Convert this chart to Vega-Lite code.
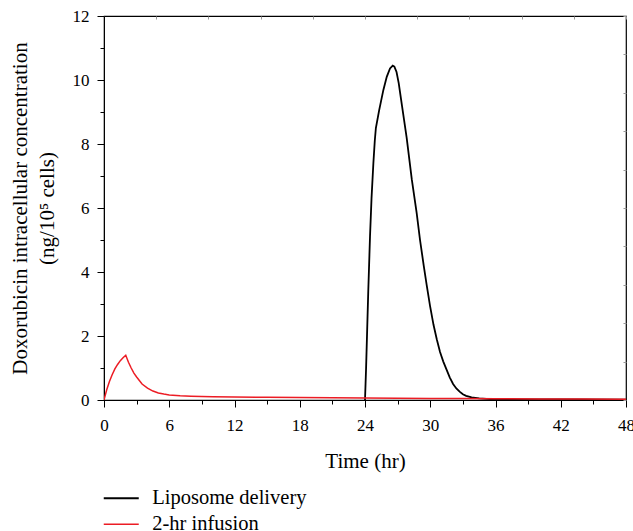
{
  "$schema": "https://vega.github.io/schema/vega-lite/v6.json",
  "width": 522,
  "height": 384,
  "autosize": {"type": "none"},
  "padding": {"left": 104, "top": 16, "right": 7, "bottom": 131},
  "background": "white",
  "config": {
    "font": "Liberation Serif",
    "view": {"stroke": "black", "strokeWidth": 1.2},
    "axis": {
      "grid": false,
      "domainColor": "black",
      "tickColor": "black",
      "labelColor": "black",
      "titleColor": "black",
      "labelFont": "Liberation Serif",
      "titleFont": "Liberation Serif",
      "labelFontSize": 17,
      "titleFontSize": 21,
      "titleFontWeight": "normal"
    },
    "legend": {"labelFont": "Liberation Serif"}
  },
  "data": {
    "values": [
      {"series": "Liposome delivery", "t": 24.0, "c": 0},
      {"series": "Liposome delivery", "t": 24.05, "c": 0.5},
      {"series": "Liposome delivery", "t": 24.1, "c": 1.0},
      {"series": "Liposome delivery", "t": 24.2, "c": 2.2},
      {"series": "Liposome delivery", "t": 24.3, "c": 3.4},
      {"series": "Liposome delivery", "t": 24.46, "c": 5.1},
      {"series": "Liposome delivery", "t": 24.6, "c": 6.3},
      {"series": "Liposome delivery", "t": 24.77, "c": 7.4},
      {"series": "Liposome delivery", "t": 24.9, "c": 8.1},
      {"series": "Liposome delivery", "t": 25.0, "c": 8.5},
      {"series": "Liposome delivery", "t": 25.3, "c": 9.05},
      {"series": "Liposome delivery", "t": 25.69, "c": 9.69},
      {"series": "Liposome delivery", "t": 26.0, "c": 10.1},
      {"series": "Liposome delivery", "t": 26.3, "c": 10.36},
      {"series": "Liposome delivery", "t": 26.55, "c": 10.45},
      {"series": "Liposome delivery", "t": 26.7, "c": 10.42},
      {"series": "Liposome delivery", "t": 26.9, "c": 10.25},
      {"series": "Liposome delivery", "t": 27.1, "c": 9.9},
      {"series": "Liposome delivery", "t": 27.4, "c": 9.2},
      {"series": "Liposome delivery", "t": 27.83, "c": 8.2},
      {"series": "Liposome delivery", "t": 28.3, "c": 6.9},
      {"series": "Liposome delivery", "t": 28.75, "c": 5.85},
      {"series": "Liposome delivery", "t": 29.06, "c": 5.0},
      {"series": "Liposome delivery", "t": 29.4, "c": 4.2},
      {"series": "Liposome delivery", "t": 29.67, "c": 3.6},
      {"series": "Liposome delivery", "t": 29.98, "c": 2.94},
      {"series": "Liposome delivery", "t": 30.3, "c": 2.35},
      {"series": "Liposome delivery", "t": 30.6, "c": 1.9},
      {"series": "Liposome delivery", "t": 30.9, "c": 1.5},
      {"series": "Liposome delivery", "t": 31.2, "c": 1.2},
      {"series": "Liposome delivery", "t": 31.5, "c": 0.95},
      {"series": "Liposome delivery", "t": 31.8, "c": 0.7},
      {"series": "Liposome delivery", "t": 32.1, "c": 0.5},
      {"series": "Liposome delivery", "t": 32.4, "c": 0.36},
      {"series": "Liposome delivery", "t": 32.7, "c": 0.26},
      {"series": "Liposome delivery", "t": 33.0, "c": 0.18},
      {"series": "Liposome delivery", "t": 33.3, "c": 0.13},
      {"series": "Liposome delivery", "t": 33.8, "c": 0.08},
      {"series": "Liposome delivery", "t": 34.5, "c": 0.05},
      {"series": "Liposome delivery", "t": 35.5, "c": 0.03},
      {"series": "Liposome delivery", "t": 38, "c": 0.02},
      {"series": "Liposome delivery", "t": 42, "c": 0.015},
      {"series": "Liposome delivery", "t": 48, "c": 0.01},
      {"series": "2-hr infusion", "t": 0, "c": 0},
      {"series": "2-hr infusion", "t": 0.25, "c": 0.32},
      {"series": "2-hr infusion", "t": 0.5, "c": 0.58},
      {"series": "2-hr infusion", "t": 0.75, "c": 0.79},
      {"series": "2-hr infusion", "t": 1.0, "c": 0.97},
      {"series": "2-hr infusion", "t": 1.25, "c": 1.11},
      {"series": "2-hr infusion", "t": 1.5, "c": 1.23},
      {"series": "2-hr infusion", "t": 1.75, "c": 1.32},
      {"series": "2-hr infusion", "t": 2.0, "c": 1.4},
      {"series": "2-hr infusion", "t": 2.25, "c": 1.18},
      {"series": "2-hr infusion", "t": 2.5, "c": 1.0},
      {"series": "2-hr infusion", "t": 2.75, "c": 0.84},
      {"series": "2-hr infusion", "t": 3.0, "c": 0.72},
      {"series": "2-hr infusion", "t": 3.5, "c": 0.5},
      {"series": "2-hr infusion", "t": 4.0, "c": 0.37},
      {"series": "2-hr infusion", "t": 4.5, "c": 0.28},
      {"series": "2-hr infusion", "t": 5.0, "c": 0.22},
      {"series": "2-hr infusion", "t": 5.5, "c": 0.185},
      {"series": "2-hr infusion", "t": 6.0, "c": 0.16},
      {"series": "2-hr infusion", "t": 7.0, "c": 0.13},
      {"series": "2-hr infusion", "t": 8.0, "c": 0.12},
      {"series": "2-hr infusion", "t": 10.0, "c": 0.105},
      {"series": "2-hr infusion", "t": 12.0, "c": 0.095},
      {"series": "2-hr infusion", "t": 15.0, "c": 0.085},
      {"series": "2-hr infusion", "t": 18.0, "c": 0.075},
      {"series": "2-hr infusion", "t": 21.0, "c": 0.068},
      {"series": "2-hr infusion", "t": 24.0, "c": 0.062},
      {"series": "2-hr infusion", "t": 27.0, "c": 0.056},
      {"series": "2-hr infusion", "t": 30.0, "c": 0.05},
      {"series": "2-hr infusion", "t": 33.0, "c": 0.045},
      {"series": "2-hr infusion", "t": 36.0, "c": 0.04},
      {"series": "2-hr infusion", "t": 40.0, "c": 0.035},
      {"series": "2-hr infusion", "t": 44.0, "c": 0.03},
      {"series": "2-hr infusion", "t": 48.0, "c": 0.027}
    ]
  },
  "layer": [
    {
      "mark": {"type": "line", "clip": true},
      "encoding": {
        "x": {
          "field": "t", "type": "quantitative",
          "scale": {"domain": [0, 48], "nice": false, "zero": false},
          "axis": {
            "title": "Time (hr)",
            "values": [0, 3, 6, 9, 12, 15, 18, 21, 24, 27, 30, 33, 36, 39, 42, 45, 48],
            "labelExpr": "datum.value % 6 === 0 ? datum.label : ''",
            "tickSize": {"condition": {"test": "datum.value % 6 === 0", "value": 7}, "value": 4},
            "labelFont": "Liberation Serif",
            "labelPadding": 10,
            "labelFlush": false,
            "labelOverlap": false,
            "titleY": 67.7,
            "titleBaseline": "alphabetic"
          }
        },
        "y": {
          "field": "c", "type": "quantitative",
          "scale": {"domain": [0, 12], "nice": false},
          "axis": {
            "title": ["Doxorubicin intracellular concentration", "(ng/10⁵ cells)"],
            "values": [0, 1, 2, 3, 4, 5, 6, 7, 8, 9, 10, 11, 12],
            "labelExpr": "datum.value % 2 === 0 ? datum.label : ''",
            "tickSize": {"condition": {"test": "datum.value % 2 === 0", "value": 7}, "value": 4},
            "labelFont": "Liberation Serif",
            "labelPadding": 8,
            "labelFlush": false,
            "labelOverlap": false,
            "titleX": -77.3,
            "titleY": 192,
            "titleAngle": -90,
            "titleAlign": "center",
            "titleBaseline": "alphabetic",
            "titleLineHeight": 26.7
          }
        },
        "color": {
          "field": "series", "type": "nominal",
          "scale": {"domain": ["Liposome delivery", "2-hr infusion"], "range": ["#000000", "#ec1c24"]},
          "legend": {
            "orient": "none",
            "legendX": 7,
            "legendY": 472,
            "direction": "vertical",
            "title": null,
            "padding": 0,
            "symbolType": "M-4.375,0H4.375",
            "symbolSize": 64,
            "symbolStrokeWidth": 1.2,
            "symbolFillColor": "transparent",
            "labelFont": "Liberation Serif",
            "labelFontSize": 20.5,
            "labelColor": "black",
            "labelOffset": 20.7,
            "rowPadding": 5
          }
        },
        "strokeWidth": {
          "field": "series", "type": "nominal",
          "scale": {"domain": ["Liposome delivery", "2-hr infusion"], "range": [1.8, 1.5]},
          "legend": null
        }
      }
    },
    {
      "mark": {"type": "line", "strokeOpacity": 0},
      "encoding": {
        "x": {
          "field": "t", "type": "quantitative",
          "axis": {
            "orient": "top", "title": null, "labels": false, "domain": false,
            "values": [0, 4.8, 9.6, 14.4, 19.2, 24, 28.8, 33.6, 38.4, 43.2, 48],
            "tickSize": -3, "tickColor": "#999999"
          }
        },
        "y": {
          "field": "c", "type": "quantitative",
          "axis": {
            "orient": "right", "title": null, "labels": false, "domain": false,
            "values": [0, 1.2, 2.4, 3.6, 4.8, 6, 7.2, 8.4, 9.6, 10.8, 12],
            "tickSize": -3, "tickColor": "#999999"
          }
        },
        "detail": {"field": "series", "type": "nominal"}
      }
    }
  ],
  "resolve": {"axis": {"x": "independent", "y": "independent"}}
}
